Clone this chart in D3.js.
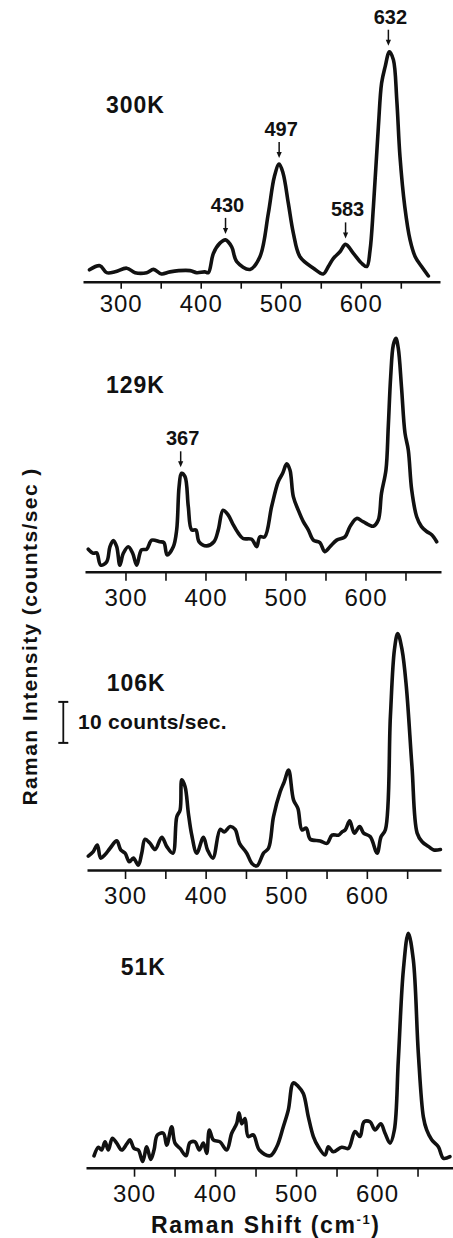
<!DOCTYPE html>
<meta charset="utf-8">
<style>
  body { margin: 0; background: #fff; }
  svg text { font-family: "Liberation Sans", Arial, Helvetica, sans-serif; fill: #111; }
  .trace { fill: none; stroke: #111; stroke-width: 3.6; stroke-linejoin: round; stroke-linecap: round; }
  .axis .domain { stroke: #111; stroke-width: 2.6; }
  .axis .tick line { stroke: #111; stroke-width: 1.6; }
  .axis .tick text { font-size: 24px; letter-spacing: 1px; }
  .temp { font-size: 23px; font-weight: bold; letter-spacing: 1px; }
  .peak { font-size: 20px; font-weight: bold; }
  .arrow { stroke: #111; stroke-width: 1.5; }
  .title { font-size: 21px; font-weight: bold; letter-spacing: 1.4px; }
</style>

<body>
  <script src="https://d3js.org/d3.v7.min.js"></script>
  <script>

    // Raman shift (cm-1), intensity (counts/sec above each axis)
    var spec300K = [[261,2.9],[274,3.9],[282.5,2.2],[293,2.4],[307.5,3.3],[318,2.2],[332.5,2.2],[341,3.0],[351,1.9],[361.6,2.4],[386.6,2.7],[395,2.2],[405,2.4],[409.5,2.2],[415.8,6.9],[424,9.4],[431,10.2],[438.7,8.5],[445,4.9],[461.6,3.0],[474,6.1],[484.5,16.7],[492,25.6],[498,28.7],[503,26.4],[509.5,19.1],[515.8,11.8],[524,6.1],[540.8,3.3],[553,1.9],[559.5,3.7],[565.8,5.7],[574,7.3],[581,9.1],[590.8,6.9],[601,4.5],[607.5,3.7],[611.6,7.7],[615.8,18.3],[622,37.8],[626,48.4],[630.4,52.4],[635.8,56.1],[640.8,54.1],[645,44.3],[649,30.5],[655,18.3],[661.6,10.2],[668,6.1],[676,3.7],[684.5,1.4]];

    var spec129K = [[253.5,5.5],[259.8,4.5],[264,4.6],[269,1.6],[276.5,2.4],[280.6,6.1],[284.8,7.6],[289,6.1],[293,1.6],[297.3,4.5],[303.5,6.1],[309,4.5],[314,1.6],[320,5.3],[326.5,5.5],[332.8,7.7],[343,7.3],[348,7.1],[352,4.1],[359.8,6.1],[364,10.2],[367,20.7],[370,24.0],[374.4,23.2],[378.5,15.9],[382.7,10.2],[388,10.2],[392,7.3],[401.5,6.3],[410.6,7.3],[416,10.2],[422,15.0],[428.5,13.8],[434.8,11.4],[441,9.4],[447,8.1],[457.8,7.9],[464,6.1],[468,8.5],[474,8.5],[482.7,15.9],[491,22.0],[496.5,24.0],[501.5,26.3],[505.6,24.8],[509.8,18.3],[516,15.0],[522.3,12.2],[528.5,10.2],[534.8,7.7],[543,7.1],[549,4.9],[555.6,6.1],[564,7.7],[574.4,8.5],[580.6,11.0],[589,13.0],[597,12.2],[609.8,11.1],[616,12.6],[620,19.1],[625.6,24.8],[628.5,35.4],[631.5,47.6],[634.8,55.3],[638,56.9],[641,54.5],[645,45.1],[649.4,33.8],[653.5,29.7],[657.8,19.9],[664,13.4],[670,11.0],[676.5,9.8],[682.8,9.0],[689,7.3]];

    var spec106K = [[254.4,3.4],[260.6,4.5],[265.6,6.1],[269.8,2.9],[275,3.7],[281.4,5.3],[289.7,7.1],[294.6,4.9],[300,4.1],[305.4,2.0],[310.3,2.9],[316.5,1.2],[320.7,4.1],[324.8,7.5],[331,6.5],[337.3,5.0],[345.6,8.0],[351.8,5.7],[359.3,4.1],[364.2,13.0],[368.3,14.6],[370.4,22.0],[374.5,20.3],[378.6,13.8],[382.8,8.5],[389,4.1],[397.3,8.0],[402.3,4.9],[409,2.9],[418,9.9],[423,9.3],[430.4,10.6],[436.6,9.9],[442,6.5],[451,4.1],[457.4,1.6],[463.6,1.0],[471.8,4.1],[478,5.3],[484.2,13.0],[492.5,19.1],[497.5,21.5],[502.9,24.4],[509,17.1],[514.5,15.0],[519.5,9.8],[524.8,10.2],[529.8,7.5],[542.2,7.1],[550.5,6.5],[556.8,8.5],[565,8.5],[569.2,9.3],[573.3,9.8],[578.7,12.0],[584.5,9.0],[591,10.6],[596,9.0],[604.3,8.1],[612.7,4.1],[617.6,8.1],[623,9.8],[629.2,37.4],[634.2,53.7],[638.3,57.7],[643.7,53.7],[649,44.7],[656,25.2],[662.4,9.0],[668.6,6.9],[676.8,5.7],[683,4.9],[691.3,5.0]];

    var spec51K = [[250.6,2.9],[256,5.0],[260,4.3],[264.2,6.3],[268.3,4.3],[273.2,7.2],[278.6,6.0],[284.8,4.3],[291,5.8],[295,6.8],[300,4.7],[305.3,4.3],[310.7,1.5],[315.7,5.1],[320.6,2.0],[324.7,4.3],[328.8,8.0],[336.2,8.4],[340.4,5.5],[346.5,10.0],[350.6,6.0],[356.8,4.7],[364.2,2.9],[369,6.1],[375.3,6.3],[380.6,4.3],[385.6,6.0],[389.7,3.5],[393,9.2],[397.9,6.8],[406.2,6.3],[414.4,4.3],[420.6,8.4],[426.8,10.8],[429.6,13.4],[433,10.7],[437,12.0],[441,7.6],[447.3,8.0],[454.7,4.3],[467.9,2.9],[476.2,5.1],[484.3,10.0],[490.5,14.1],[496.7,20.7],[502.8,19.8],[509,18.1],[515.2,12.4],[521.4,7.6],[527.5,5.1],[535.8,3.1],[539.9,5.1],[546,3.9],[556.4,5.0],[564.6,4.7],[572.8,8.8],[579,7.6],[584,11.2],[591.4,11.2],[597.5,9.2],[604.6,10.7],[609.9,8.4],[616,6.0],[621.4,9.2],[626.3,26.3],[632.5,48.2],[638.6,57.2],[644.8,50.7],[651,27.9],[657.2,12.4],[661.3,9.2],[667.5,6.8],[675.7,5.1],[681.9,2.3],[690,2.7]];

    var temps = ["300K", "129K", "106K", "51K"];
    var tickValues = [300, 350, 400, 450, 500, 550, 600, 650];
    var tickLabels = [300, 400, 500, 600];

    // arrows: label text and where the arrow points (cm-1)
    var peaks300K = [{ text: "430", at: 431 }, { text: "497", at: 498 }, { text: "583", at: 581 }, { text: "632", at: 634.5 }];
    var peaks129K = [{ text: "367", at: 369 }];

    var scaleBar = [31, 41]; // 10 counts/sec, on the 106K panel
    var yTitle = "Raman Intensity (counts/sec )";

    var pxPerCount = 4.1;

    var panels = [
      { name: temps[0], data: spec300K, peaks: peaks300K, axisY: 281.7, xr: [83, 440], xd: [252.9, 699], tick: 7, pad: 6, lab: [106, 113.3] },
      { name: temps[1], data: spec129K, peaks: peaks129K, axisY: 571.7, xr: [85, 441], xd: [249.4, 694.4], tick: 9, pad: 8, lab: [106, 392.7] },
      { name: temps[2], data: spec106K, peaks: [], axisY: 870, xr: [87, 441], xd: [252.8, 692], tick: 9, pad: 8, lab: [106.7, 690.7] },
      { name: temps[3], data: spec51K, peaks: [], axisY: 1167.7, xr: [86, 453], xd: [240.7, 693.8], tick: 9, pad: 8, lab: [120.7, 975] }
    ];

    var svg = d3.select("body").append("svg")
      .attr("width", 453)
      .attr("height", 1238);

    panels.forEach(function (p, i) {
      var x = d3.scaleLinear().domain(p.xd).range(p.xr);
      var y = d3.scaleLinear().domain([0, 60]).range([p.axisY, p.axisY - 60 * pxPerCount]);
      p.y = y;

      var g = svg.append("g");

      var axis = d3.axisBottom(x)
        .tickValues(tickValues)
        .tickSize(p.tick)
        .tickSizeOuter(0)
        .tickPadding(p.pad)
        .tickFormat(function (d) { return tickLabels.indexOf(d) >= 0 ? d : ""; });

      g.append("g")
        .attr("class", "axis")
        .attr("transform", "translate(0," + p.axisY + ")")
        .call(axis);

      var line = d3.line()
        .x(function (d) { return x(d[0]); })
        .y(function (d) { return y(d[1]); })
        .curve(d3.curveCatmullRom.alpha(0.5));

      g.append("path")
        .datum(p.data)
        .attr("class", "trace")
        .attr("d", line);

      g.append("text")
        .attr("class", "temp")
        .attr("x", p.lab[0])
        .attr("y", p.lab[1])
        .text(p.name);

      p.peaks.forEach(function (pk) {
        var top = d3.max(p.data.filter(function (d) { return Math.abs(d[0] - pk.at) < 6; }), function (d) { return d[1]; });
        var ax = x(pk.at), tip = y(top) - 6;
        g.append("line").attr("class", "arrow")
          .attr("x1", ax).attr("x2", ax)
          .attr("y1", tip - 16).attr("y2", tip - 4);
        g.append("path")
          .attr("d", "M" + (ax - 2.6) + "," + (tip - 6) + "L" + (ax + 2.6) + "," + (tip - 6) + "L" + ax + "," + tip + "Z")
          .attr("fill", "#111");
        g.append("text")
          .attr("class", "peak")
          .attr("x", ax + 2)
          .attr("y", tip - 22)
          .attr("text-anchor", "middle")
          .text(pk.text);
      });
    });

    // scale bar on the 106K panel
    var y3 = panels[2].y;
    var sb = svg.append("g");
    sb.append("line").attr("x1", 63.3).attr("x2", 63.3).attr("y1", y3(scaleBar[0])).attr("y2", y3(scaleBar[1]))
      .attr("stroke", "#111").attr("stroke-width", 1.8);
    scaleBar.forEach(function (v) {
      sb.append("line").attr("x1", 58.3).attr("x2", 68.3).attr("y1", y3(v)).attr("y2", y3(v))
        .attr("stroke", "#111").attr("stroke-width", 2);
    });
    sb.append("text")
      .attr("x", 78)
      .attr("y", (y3(scaleBar[0]) + y3(scaleBar[1])) / 2 + 7)
      .style("font-size", "21px").style("font-weight", "bold").style("letter-spacing", "0.3px")
      .text((scaleBar[1] - scaleBar[0]) + " counts/sec.");

    // y title
    svg.append("text")
      .attr("class", "title")
      .attr("transform", "translate(36.7,636.5) rotate(-90)")
      .attr("text-anchor", "middle")
      .text(yTitle);

    // x title
    var xt = svg.append("text")
      .attr("class", "title")
      .attr("x", 151)
      .attr("y", 1233)
      .style("font-size", "23px")
      .style("letter-spacing", "1.6px");
    xt.append("tspan").text("Raman Shift (cm");
    xt.append("tspan").attr("dy", -9).style("font-size", "13px").text("-1");
    xt.append("tspan").attr("dy", 9).text(")");

  </script>
